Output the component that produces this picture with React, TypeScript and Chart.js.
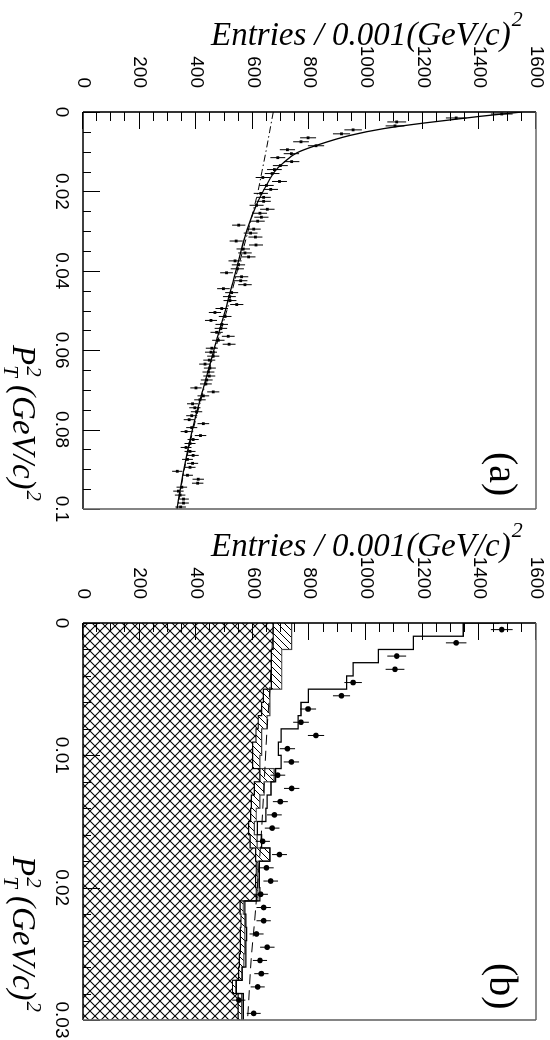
import React, { useEffect, useRef } from "react";
import { Chart, registerables } from "chart.js";

Chart.register(...registerables);

// ---------- data ----------
const BIN_WIDTH = 0.001; // (GeV/c)^2 per bin

const ENTRY_TICKS = [0, 200, 400, 600, 800, 1000, 1200, 1400, 1600];
const PT_TICKS_A = [0, 0.02, 0.04, 0.06, 0.08, 0.1];
const PT_TICKS_B = [0, 0.01, 0.02, 0.03];

// Panel (a): entries per 0.001 (GeV/c)^2 bin, 0 .. 0.1
const DATA_A = [
  1479, 1318, 1108, 1102, 954, 913, 795, 770, 823, 722,
  736, 688, 737, 697, 676, 668, 635, 694, 648, 663,
  628, 638, 638, 613, 651, 625, 630, 617, 550, 603,
  592, 609, 541, 611, 566, 572, 585, 537, 549, 545,
  507, 560, 557, 572, 496, 525, 517, 519, 543, 490,
  466, 502, 452, 490, 487, 472, 513, 478, 516, 455,
  452, 460, 446, 431, 448, 443, 446, 437, 434, 399,
  460, 425, 413, 387, 395, 401, 384, 375, 425, 384,
  364, 415, 389, 378, 364, 378, 389, 369, 387, 378,
  333, 369, 407, 405, 349, 337, 343, 355, 355, 345,
];

// Panel (a): fitted curves (solid = total fit, dash-dot = broad component)
const FIT_TOTAL_PT = [0, 0.0011, 0.0028, 0.0042, 0.0059, 0.0084, 0.0103, 0.0128, 0.0149, 0.0183, 0.0233, 0.03, 0.04, 0.05, 0.06, 0.07, 0.08, 0.09, 0.1];
const FIT_TOTAL_N = [1550, 1402, 1202, 1061, 943, 825, 755, 708, 678, 649, 613, 578, 540, 503, 462, 423, 386, 356, 332];
const FIT_BROAD_PT_A = [0, 0.005, 0.01, 0.015, 0.02, 0.025, 0.03, 0.04, 0.05, 0.06, 0.07, 0.08, 0.09, 0.1];
const FIT_BROAD_N_A = [672, 659, 646, 632, 618, 601, 583, 545, 508, 466, 426, 389, 358, 333];

// Panel (b): 0 .. 0.03
const DATA_B = [
  1479, 1318, 1108, 1102, 954, 913, 795, 770, 823, 722,
  736, 688, 737, 697, 676, 668, 635, 694, 648, 663,
  628, 638, 638, 613, 651, 625, 630, 617, 550, 603,
];
const MC_TOTAL_B = [
  1470, 1343, 1167, 1043, 954, 931, 796, 770, 760, 700,
  690, 700, 680, 664, 650, 646, 616, 631, 660, 623,
  623, 625, 572, 575, 578, 575, 575, 562, 542, 566,
];
const MC_HATCH_TOP_B = [
  749, 737, 737, 702, 702, 702, 660, 660, 650, 631,
  631, 625, 675, 640, 625, 612, 605, 615, 660, 618,
  618, 618, 566, 572, 572, 572, 568, 562, 540, 560,
];
const MC_CROSS_B = [
  672, 672, 672, 665, 665, 665, 637, 631, 619, 611,
  599, 599, 625, 605, 595, 592, 585, 590, 610, 612,
  610, 612, 555, 558, 556, 556, 552, 550, 528, 548,
];
const FIT_BROAD_PT_B = [0, 0.005, 0.008, 0.012, 0.0162, 0.0223, 0.0254, 0.029, 0.03];
const FIT_BROAD_N_B = [672, 660, 650, 640, 629, 607, 594, 584, 581];

// ---------- helpers ----------
const FONT_SANS = "Liberation Sans";
const FONT_SERIF = '"Liberation Serif"';

function makeCrossPattern(): CanvasPattern | string {
  const s = 10;
  const c = document.createElement("canvas");
  c.width = s;
  c.height = s;
  const g = c.getContext("2d");
  if (!g) return "#ccc";
  g.fillStyle = "#fff";
  g.fillRect(0, 0, s, s);
  g.strokeStyle = "#000";
  g.lineWidth = 1.1;
  g.beginPath();
  g.moveTo(-1, -1);
  g.lineTo(s + 1, s + 1);
  g.moveTo(-1, s + 1);
  g.lineTo(s + 1, -1);
  g.stroke();
  return g.createPattern(c, "repeat") || "#ccc";
}

function makeHatchPattern(): CanvasPattern | string {
  const s = 7;
  const c = document.createElement("canvas");
  c.width = s;
  c.height = s;
  const g = c.getContext("2d");
  if (!g) return "#eee";
  g.fillStyle = "#fff";
  g.fillRect(0, 0, s, s);
  g.strokeStyle = "#000";
  g.lineWidth = 1;
  g.beginPath();
  g.moveTo(-1, s + 1);
  g.lineTo(s + 1, -1);
  g.moveTo(-1, 1);
  g.lineTo(1, -1);
  g.moveTo(s - 1, s + 1);
  g.lineTo(s + 1, s - 1);
  g.stroke();
  return g.createPattern(c, "repeat") || "#eee";
}

function stepData(values: number[]) {
  const pts = values.map((v, i) => ({ x: i * BIN_WIDTH, y: v }));
  pts.push({ x: values.length * BIN_WIDTH, y: values[values.length - 1] });
  return pts;
}

function curveData(xs: number[], ys: number[]) {
  return xs.map((x, i) => ({ x, y: ys[i] }));
}

const fmtPt = (v: any) => String(parseFloat(Number(v).toFixed(3)));

function buildChart(canvas: HTMLCanvasElement, kind: "a" | "b") {
  const isA = kind === "a";
  const ptMax = isA ? 0.1 : 0.03;
  const ptTicks = isA ? PT_TICKS_A : PT_TICKS_B;
  const minorPt = isA ? 0.005 : 0.002;
  const minorPerMajor = isA ? 4 : 5;
  const data = isA ? DATA_A : DATA_B;

  const points = data.map((n, i) => ({ x: (i + 0.5) * BIN_WIDTH, y: n }));

  const datasets: any[] = [
    {
      label: "data",
      data: points,
      showLine: false,
      pointStyle: isA ? "rect" : "circle",
      pointRadius: isA ? 2 : 2.8,
      pointBackgroundColor: "#000",
      pointBorderColor: "#000",
      pointBorderWidth: 0,
      order: 0,
    },
  ];

  if (isA) {
    datasets.push({
      label: "fit",
      data: curveData(FIT_TOTAL_PT, FIT_TOTAL_N),
      borderColor: "#000",
      borderWidth: 1.3,
      pointRadius: 0,
      cubicInterpolationMode: "monotone",
      fill: false,
      order: 1,
    });
    datasets.push({
      label: "broad",
      data: curveData(FIT_BROAD_PT_A, FIT_BROAD_N_A),
      borderColor: "#000",
      borderWidth: 1,
      borderDash: [7, 3, 1.5, 3],
      pointRadius: 0,
      cubicInterpolationMode: "monotone",
      fill: false,
      order: 2,
    });
  } else {
    datasets.push({
      label: "broad",
      data: curveData(FIT_BROAD_PT_B, FIT_BROAD_N_B),
      borderColor: "#000",
      borderWidth: 1,
      borderDash: [10, 6],
      pointRadius: 0,
      cubicInterpolationMode: "monotone",
      fill: false,
      order: 1,
    });
    datasets.push({
      label: "mc total",
      data: stepData(MC_TOTAL_B),
      stepped: "after",
      borderColor: "#000",
      borderWidth: 1.3,
      pointRadius: 0,
      fill: false,
      order: 2,
    });
    datasets.push({
      label: "bkg cross",
      data: stepData(MC_CROSS_B),
      stepped: "after",
      borderColor: "#000",
      borderWidth: 1.2,
      pointRadius: 0,
      fill: "origin",
      backgroundColor: makeCrossPattern(),
      order: 3,
    });
    datasets.push({
      label: "bkg hatch",
      data: stepData(MC_HATCH_TOP_B),
      stepped: "after",
      borderColor: "#444",
      borderWidth: 1.2,
      pointRadius: 0,
      fill: "origin",
      backgroundColor: makeHatchPattern(),
      order: 4,
    });
  }

  const decor = {
    id: "decor",
    afterDatasetsDraw(chart: any) {
      const { ctx, chartArea: ca, scales } = chart;
      const xs = scales.x;
      const ys = scales.y;
      ctx.save();
      ctx.beginPath();
      ctx.rect(ca.left, ca.top, ca.right - ca.left, ca.bottom - ca.top);
      ctx.clip();
      ctx.strokeStyle = "#000";
      ctx.lineWidth = 1;
      data.forEach((n, i) => {
        const px = xs.getPixelForValue((i + 0.5) * BIN_WIDTH);
        const e = Math.sqrt(n);
        ctx.beginPath();
        ctx.moveTo(px, ys.getPixelForValue(n - e));
        ctx.lineTo(px, ys.getPixelForValue(n + e));
        ctx.stroke();
      });
      ctx.restore();
    },
    afterDraw(chart: any) {
      const { ctx, chartArea: ca, scales } = chart;
      const xs = scales.x;
      const ys = scales.y;
      const H = chart.height;
      const line = (x1: number, y1: number, x2: number, y2: number) => {
        ctx.beginPath();
        ctx.moveTo(x1, y1);
        ctx.lineTo(x2, y2);
        ctx.stroke();
      };
      ctx.save();
      // ticks
      ctx.strokeStyle = "#000";
      ctx.lineWidth = 1;
      for (let n = 0; n <= 1600; n += 50) {
        const py = Math.round(ys.getPixelForValue(n)) + 0.5;
        line(ca.left, py, ca.left + (n % 200 === 0 ? 17 : 9), py);
      }
      const nMinor = Math.round(ptMax / minorPt);
      for (let k = 0; k <= nMinor; k++) {
        const px = Math.round(xs.getPixelForValue(k * minorPt)) + 0.5;
        line(px, ca.bottom, px, ca.bottom - (k % minorPerMajor === 0 ? 17 : 8));
      }
      // frame
      ctx.lineWidth = 1.6;
      ctx.strokeStyle = "#000";
      line(ca.left, ca.top, ca.left, ca.bottom);
      line(ca.left, ca.bottom, ca.right, ca.bottom);
      ctx.strokeStyle = "#666";
      line(ca.right, ca.top, ca.right, ca.bottom);
      line(ca.left, ca.top, ca.right, ca.top);

      ctx.fillStyle = "#000";
      ctx.textAlign = "left";
      ctx.textBaseline = "alphabetic";

      // y-axis title (rotated)
      ctx.save();
      ctx.translate(45, H - 211);
      ctx.rotate(-Math.PI / 2);
      ctx.font = `italic 33px ${FONT_SERIF}`;
      const yt = "Entries / 0.001(GeV/c)";
      ctx.fillText(yt, 0, 0);
      const wy = ctx.measureText(yt).width;
      ctx.font = `italic 22px ${FONT_SERIF}`;
      ctx.fillText("2", wy + 1, -19);
      ctx.restore();

      // x-axis title
      const base = 537;
      let u = 345;
      ctx.font = `italic 33px ${FONT_SERIF}`;
      ctx.fillText("P", u, base);
      u += ctx.measureText("P").width;
      ctx.font = `italic 21px ${FONT_SERIF}`;
      ctx.fillText("T", u, base + 9);
      ctx.fillText("2", u + 1, base - 14);
      u += Math.max(ctx.measureText("T").width, ctx.measureText("2").width + 1);
      ctx.font = `italic 33px ${FONT_SERIF}`;
      const xt = " (GeV/c)";
      ctx.fillText(xt, u, base);
      u += ctx.measureText(xt).width;
      ctx.font = `italic 21px ${FONT_SERIF}`;
      ctx.fillText("2", u + 1, base - 14);

      // panel label
      ctx.font = `40px ${FONT_SERIF}`;
      ctx.fillText(isA ? "(a)" : "(b)", 452, 60);
      ctx.restore();
    },
  };

  return new Chart(canvas, {
    type: "line",
    data: { datasets },
    options: {
      responsive: false,
      animation: false,
      events: [],
      layout: { padding: { top: 14, right: 20, bottom: 0, left: 0 }, autoPadding: false },
      plugins: {
        legend: { display: false },
        tooltip: { enabled: false },
        title: { display: false },
      },
      scales: {
        x: {
          type: "linear",
          position: "bottom",
          min: 0,
          max: ptMax,
          grid: { display: false, drawTicks: false },
          border: { display: false },
          ticks: {
            autoSkip: false,
            maxRotation: 0,
            minRotation: 0,
            padding: 10,
            color: "#000",
            font: { family: FONT_SANS, size: 19 },
            callback: fmtPt,
          },
          afterBuildTicks: (s: any) => {
            s.ticks = ptTicks.map((v) => ({ value: v }));
          },
          afterFit: (s: any) => {
            s.height = 83;
            s.paddingLeft = 0;
            s.paddingRight = 0;
            s.paddingTop = 0;
            s.paddingBottom = 0;
          },
        },
        y: {
          type: "linear",
          position: "left",
          min: 0,
          max: 1600,
          grid: { display: false, drawTicks: false },
          border: { display: false },
          ticks: {
            autoSkip: false,
            padding: 24,
            color: "#000",
            font: { family: FONT_SANS, size: 19 },
            callback: (v: any) => String(v),
          },
          afterBuildTicks: (s: any) => {
            s.ticks = ENTRY_TICKS.map((v) => ({ value: v }));
          },
          afterFit: (s: any) => {
            s.width = 112;
            s.paddingLeft = 0;
            s.paddingRight = 0;
            s.paddingTop = 0;
            s.paddingBottom = 0;
          },
        },
      },
    } as any,
    plugins: [decor],
  } as any);
}

function Panel({ kind, offsetY }: { kind: "a" | "b"; offsetY: number }) {
  const ref = useRef<HTMLCanvasElement | null>(null);
  useEffect(() => {
    if (!ref.current) return;
    const chart = buildChart(ref.current, kind);
    return () => chart.destroy();
  }, [kind]);
  return (
    <canvas
      ref={ref}
      width={529}
      height={550}
      style={{
        position: "absolute",
        left: 0,
        top: 0,
        width: 529,
        height: 550,
        transformOrigin: "0 0",
        transform: `translate(550px, ${offsetY}px) rotate(90deg)`,
      }}
    />
  );
}

export default function App() {
  return (
    <div
      style={{
        position: "absolute",
        left: 0,
        top: 0,
        width: 550,
        height: 1040,
        background: "#fff",
        overflow: "hidden",
      }}
    >
      <Panel kind="a" offsetY={0} />
      <Panel kind="b" offsetY={511} />
    </div>
  );
}
